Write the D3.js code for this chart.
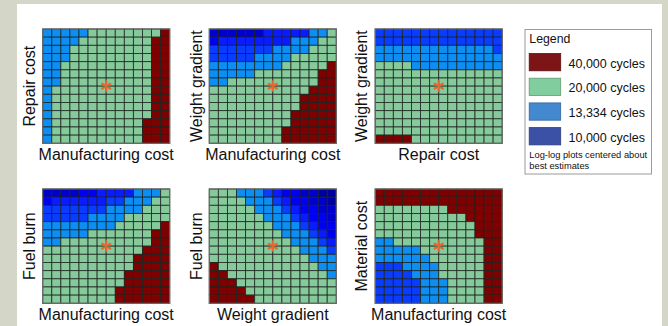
<!DOCTYPE html>
<html>
<head>
<meta charset="utf-8">
<script src="https://cdn.jsdelivr.net/npm/d3@7"></script>
<style>
  html, body { margin: 0; padding: 0; background: #d4d7c8; }
  svg { display: block; font-family: "Liberation Sans", Arial, Helvetica, sans-serif; }
</style>
</head>
<body>
<svg id="chart" width="668" height="326"></svg>
<script>
// Number of inspections per design life; cycles between inspections = 40,000 / n
const inspectionCounts = [1, 2, 3, 4, 5, 6, 7, 8];
const cellColors = ["#7f0000", "#86c99b", "#0d8ef2", "#0a3cff", "#0a1cff", "#0000f2", "#0000cc", "#0000a0"];

// Legend entries
const legendLabels = ["40,000 cycles", "20,000 cycles", "13,334 cycles", "10,000 cycles"];
const legendColors = ["#7d1416", "#81cd9d", "#4489cf", "#3a51a6"];
const legendNote = ["Log-log plots centered about", "best estimates"];

// Each grid: rows from top (high y-parameter) to bottom, columns left to right,
// digit = number of inspections required
const repairVsManufacturing = [
  "33333222222221",
  "33332222222211",
  "33322222222211",
  "33322222222211",
  "33222222222211",
  "33222222222211",
  "33222222222211",
  "32222222222211",
  "32222222222211",
  "32222222222211",
  "32222222222211",
  "32222222222111",
  "32222222222111",
  "32222222222111"
];
const weightVsManufacturing = [
  "77777755555332",
  "65555555533322",
  "44444443333222",
  "44444333322222",
  "33333333222221",
  "33333222222211",
  "33222222222211",
  "22222222222111",
  "22222222221111",
  "22222222221111",
  "22222222211111",
  "22222222211111",
  "22222222111111",
  "22222222111111"
];
const weightVsRepair = [
  "44444444444444",
  "44444444444444",
  "33333333333334",
  "33333333333333",
  "22223333333333",
  "22222222222222",
  "22222222222222",
  "22222222222222",
  "22222222222222",
  "22222222222222",
  "22222222222222",
  "22222222222222",
  "22222222222222",
  "11112222222222"
];
const fuelVsManufacturing = [
  "77776655553332",
  "65555554433322",
  "44444443333222",
  "44444333322222",
  "33333333222221",
  "33333222222211",
  "33222222222211",
  "22222222222111",
  "22222222221111",
  "22222222221111",
  "22222222211111",
  "22222222211111",
  "22222222111111",
  "22222222111111"
];
const fuelVsWeight = [
  "22233345667788",
  "22223334566778",
  "22222333456677",
  "22222233345667",
  "22222223334566",
  "22222222333456",
  "22222222233345",
  "22222222223334",
  "22222222222333",
  "12222222222233",
  "11222222222223",
  "11122222222222",
  "11112222222222",
  "11111222222222"
];
const materialVsManufacturing = [
  "11111111111111",
  "11111111111111",
  "22222222111111",
  "22222222221111",
  "22222222222111",
  "22222222222111",
  "33222222222211",
  "33333222222211",
  "33333322222211",
  "44433332222211",
  "44443332222211",
  "44444333222211",
  "44444333222211",
  "44444333222211"
];

const xLabels = ["Manufacturing cost", "Manufacturing cost", "Repair cost",
                 "Manufacturing cost", "Weight gradient", "Manufacturing cost"];
const yLabels = ["Repair cost", "Weight gradient", "Weight gradient",
                 "Fuel burn", "Fuel burn", "Material cost"];
const grids = [repairVsManufacturing, weightVsManufacturing, weightVsRepair,
               fuelVsManufacturing, fuelVsWeight, materialVsManufacturing];

// ---- layout ----
const svg = d3.select("#chart");
svg.append("rect").attr("x", 17).attr("y", 4).attr("width", 645).attr("height", 322).attr("fill", "#ffffff");

const colLefts = [42.7, 209.3, 375.2];
const rowTops = [29, 189];
const gridW = 127, gridH = 114.3;
const color = d3.scaleOrdinal().domain(inspectionCounts).range(cellColors);
const star = d3.symbol().type(d3.symbolAsterisk).size(62);

grids.forEach((grid, i) => {
  const left = colLefts[i % 3], top = rowTops[Math.floor(i / 3)];
  const nCols = grid[0].length, nRows = grid.length;
  const x = d3.scaleBand().domain(d3.range(nCols)).range([left, left + gridW]);
  const y = d3.scaleBand().domain(d3.range(nRows)).range([top, top + gridH]);
  const cells = grid.flatMap((row, r) => row.split("").map((v, c) => ({ r, c, n: +v })));

  const g = svg.append("g");
  g.selectAll("rect.cell").data(cells).join("rect")
    .attr("class", "cell")
    .attr("x", d => x(d.c)).attr("y", d => y(d.r))
    .attr("width", x.bandwidth()).attr("height", y.bandwidth())
    .attr("fill", d => color(d.n))
    .attr("stroke", "#1a231d").attr("stroke-opacity", 0.85).attr("stroke-width", 0.9);

  g.append("rect")
    .attr("x", left).attr("y", top).attr("width", gridW).attr("height", gridH)
    .attr("fill", "none").attr("stroke", "#6a6a6a").attr("stroke-width", 1.2);

  // best-estimate point at the centre of the log-log grid
  g.append("path")
    .attr("d", star)
    .attr("transform", `translate(${x(nCols / 2)},${y(nRows / 2)})`)
    .attr("fill", "none").attr("stroke", "#e8662e").attr("stroke-width", 2.2)
    .attr("stroke-linecap", "round");

  g.append("text")
    .attr("x", left + gridW / 2).attr("y", top + gridH + 16.3)
    .attr("text-anchor", "middle").attr("font-size", 16).attr("fill", "#111")
    .text(xLabels[i]);

  g.append("text")
    .attr("transform", `translate(${left - 7.8},${top + gridH / 2}) rotate(-90)`)
    .attr("text-anchor", "middle").attr("font-size", 16).attr("fill", "#111")
    .text(yLabels[i]);
});

// ---- legend ----
const lg = svg.append("g");
lg.append("rect").attr("x", 525).attr("y", 29.5).attr("width", 126.5).attr("height", 144.5)
  .attr("fill", "#fff").attr("stroke", "#9a9a9a").attr("stroke-width", 1);
lg.append("text").attr("x", 529.3).attr("y", 42.8).attr("font-size", 12.3).attr("fill", "#111").text("Legend");

const ly = d3.scalePoint().domain(d3.range(legendLabels.length)).range([53.5, 127.6]);
lg.selectAll("rect.sw").data(legendLabels).join("rect")
  .attr("class", "sw")
  .attr("x", 529.2).attr("y", (d, i) => ly(i))
  .attr("width", 31.5).attr("height", 17.3)
  .attr("fill", (d, i) => legendColors[i])
  .attr("stroke", (d, i) => d3.color(legendColors[i]).darker(0.8)).attr("stroke-width", 0.8);
lg.selectAll("text.lab").data(legendLabels).join("text")
  .attr("class", "lab")
  .attr("x", 568.5).attr("y", (d, i) => ly(i) + 14)
  .attr("font-size", 12.5).attr("fill", "#111").text(d => d);
lg.selectAll("text.note").data(legendNote).join("text")
  .attr("class", "note")
  .attr("x", 529.3).attr("y", (d, i) => 157.5 + i * 11)
  .attr("font-size", 9.3).attr("fill", "#111").text(d => d);
</script>
</body>
</html>
